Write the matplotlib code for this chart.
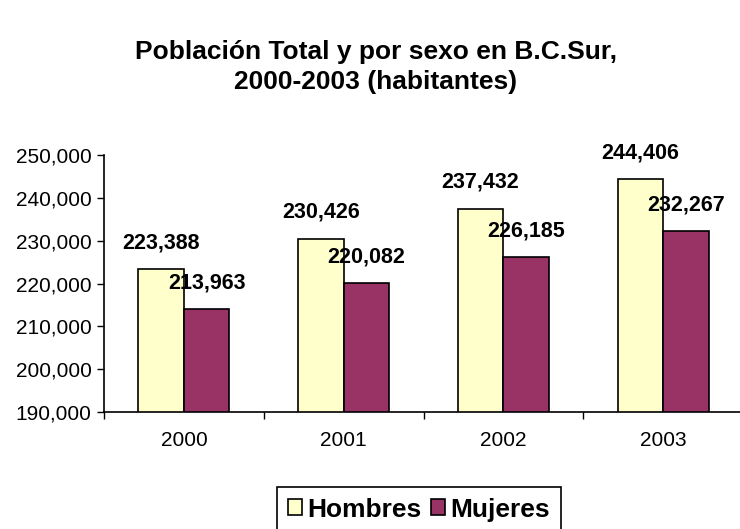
import numpy as np
import matplotlib
matplotlib.use('Agg')
import matplotlib.pyplot as plt

plt.rcParams['font.family'] = ['Liberation Sans', 'DejaVu Sans']

years = ['2000', '2001', '2002', '2003']
hombres = [223388, 230426, 237432, 244406]
mujeres = [213963, 220082, 226185, 232267]

yellow = '#FFFFCC'
plum = '#993366'

fig = plt.figure(figsize=(7.4, 5.29), dpi=100)
ax = fig.add_axes([104/740, 1-412/529, 639/740, (412-155)/529])

x = np.arange(len(years))
w = 0.285
b1 = ax.bar(x - w/2, hombres, w, bottom=0, color=yellow, edgecolor='black', linewidth=1.2, label='Hombres')
b2 = ax.bar(x + w/2, mujeres, w, bottom=0, color=plum, edgecolor='black', linewidth=1.2, label='Mujeres')

# value labels above each bar
for bars, vals in ((b1, hombres), (b2, mujeres)):
    for r, v in zip(bars, vals):
        ax.annotate(f'{v:,}', (r.get_x() + r.get_width()/2, v),
                    xytext=(0, 19), textcoords='offset points',
                    ha='center', va='center', fontsize=15.5, fontweight='bold')

ax.set_ylim(190000, 250000)
ax.set_xlim(-0.5, len(years) - 0.5)
ax.set_yticks(np.arange(190000, 250001, 10000))
ax.yaxis.set_major_formatter(matplotlib.ticker.FuncFormatter(lambda v, p: f'{int(v):,}'))
ax.set_xticks(x)
ax.set_xticklabels(years)
ax.set_xticks(np.arange(-0.5, len(years), 1), minor=True)
ax.tick_params(axis='x', which='major', length=0, pad=14, labelsize=15)
ax.tick_params(axis='x', which='minor', length=5, width=1, direction='out')
ax.tick_params(axis='y', length=5, width=1, direction='out', labelsize=15, pad=4)

for s in ('top', 'right'):
    ax.spines[s].set_visible(False)
for s in ('left', 'bottom'):
    ax.spines[s].set_linewidth(1.2)

fig.text(376/740, 1-52/529, 'Población Total y por sexo en B.C.Sur,', ha='center', va='center',
         fontsize=19, fontweight='bold')
fig.text(376/740, 1-82/529, '2000-2003 (habitantes)', ha='center', va='center',
         fontsize=19, fontweight='bold')

leg = fig.legend(handles=[b1, b2], loc='upper left', bbox_to_anchor=(277/740, 1-487/529),
                 borderaxespad=0, ncol=2, frameon=True, fancybox=False, edgecolor='black',
                 framealpha=1, prop={'size': 19, 'weight': 'bold'},
                 handlelength=0.55, handleheight=0.55, handletextpad=0.2,
                 columnspacing=0.35, borderpad=0.4)
leg.get_frame().set_linewidth(1.2)

fig.savefig('out.png', dpi=100)
